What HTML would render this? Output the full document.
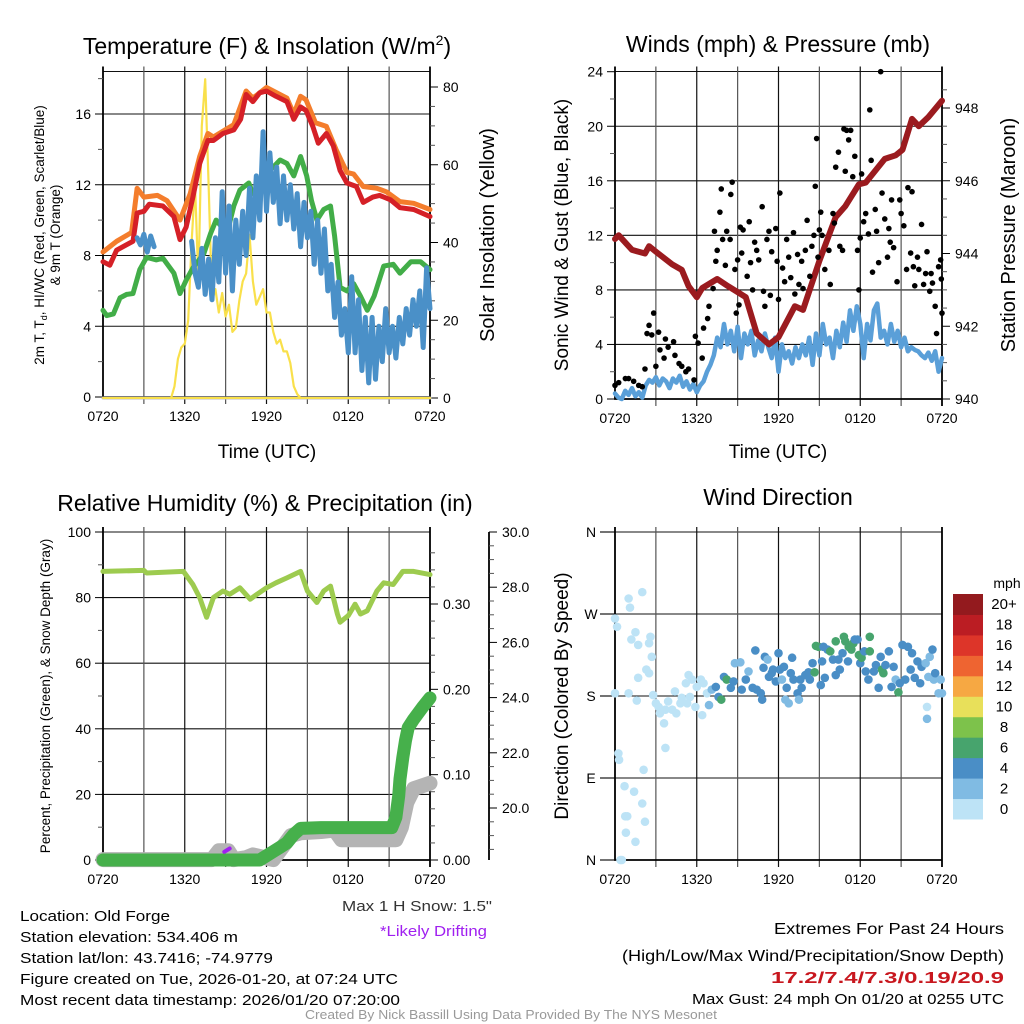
<!DOCTYPE html>
<html><head><meta charset="utf-8"><style>
body{margin:0;background:#fff}
svg{display:block;font-family:"Liberation Sans",Arial,sans-serif}
</style></head><body>
<svg id="root" width="1024" height="1024" viewBox="0 0 1024 1024">
<rect x="0" y="0" width="1024" height="1024" fill="#fff"/>
<g font-size="23" text-anchor="middle" fill="#000">
<text x="267" y="54">Temperature (F) &amp; Insolation (W/m<tspan dy="-9" font-size="14">2</tspan><tspan dy="9">)</tspan></text>
<text x="778" y="52">Winds (mph) &amp; Pressure (mb)</text>
<text x="265" y="511">Relative Humidity (%) &amp; Precipitation (in)</text>
<text x="778" y="505">Wind Direction</text>
</g>
<g font-size="19" text-anchor="middle">
<text x="267" y="458">Time (UTC)</text>
<text x="778" y="458">Time (UTC)</text>
<text transform="translate(494,235) rotate(-90)" font-size="20">Solar Insolation (Yellow)</text>
<text transform="translate(568,235) rotate(-90)">Sonic Wind &amp; Gust (Blue, Black)</text>
<text transform="translate(1015,235) rotate(-90)" font-size="20">Station Pressure (Maroon)</text>
<text transform="translate(568,696) rotate(-90)">Direction (Colored By Speed)</text>
</g>
<g font-size="13.5" text-anchor="middle">
<text transform="translate(44,235) rotate(-90)">2m T, T<tspan font-size="9" dy="3">d</tspan><tspan dy="-3">, HI/WC (Red, Green, Scarlet/Blue)</tspan></text>
<text transform="translate(60,235) rotate(-90)">&amp; 9m T (Orange)</text>
<text transform="translate(50,696) rotate(-90)">Percent, Precipitation (Green), &amp; Snow Depth (Gray)</text>
</g>
<g id="layer"></g>
<g font-size="15" fill="#000">
<text x="20" y="921" textLength="150" lengthAdjust="spacingAndGlyphs">Location: Old Forge</text>
<text x="20" y="942" textLength="218" lengthAdjust="spacingAndGlyphs">Station elevation: 534.406 m</text>
<text x="20" y="963" textLength="253" lengthAdjust="spacingAndGlyphs">Station lat/lon: 43.7416; -74.9779</text>
<text x="20" y="984" textLength="378" lengthAdjust="spacingAndGlyphs">Figure created on Tue, 2026-01-20, at 07:24 UTC</text>
<text x="20" y="1005" textLength="380" lengthAdjust="spacingAndGlyphs">Most recent data timestamp: 2026/01/20 07:20:00</text>
<text x="342" y="911" textLength="150" lengthAdjust="spacingAndGlyphs" fill="#333">Max 1 H Snow: 1.5"</text>
<text x="380" y="936" textLength="107" lengthAdjust="spacingAndGlyphs" fill="#a020f0">*Likely Drifting</text>
<text x="774" y="934" font-size="16" textLength="230" lengthAdjust="spacingAndGlyphs">Extremes For Past 24 Hours</text>
<text x="622" y="961" font-size="16" textLength="382" lengthAdjust="spacingAndGlyphs">(High/Low/Max Wind/Precipitation/Snow Depth)</text>
<text x="771" y="983" font-size="16" font-weight="bold" fill="#c8171e" textLength="233" lengthAdjust="spacingAndGlyphs">17.2/7.4/7.3/0.19/20.9</text>
<text x="692" y="1004" textLength="312" lengthAdjust="spacingAndGlyphs">Max Gust: 24 mph On 01/20 at 0255 UTC</text>
<text x="305" y="1019" font-size="12.5" fill="#999" textLength="412" lengthAdjust="spacingAndGlyphs">Created By Nick Bassill Using Data Provided By The NYS Mesonet</text>
</g>
</svg>
<script>
// ---------- DATA ----------
const xTickLabels = ["0720","1320","1920","0120","0720"];
// Panel 1 (temperatures, hours since 0720, values F)
const redT = [0,0.5,1.0,1.7,2.2,2.5,3.0,3.4,4.4,5.2,5.65,6.1,6.6,7.1,7.7,8.1,8.8,9.6,10.1,10.5,11.0,11.5,12.0,12.7,13.5,14.0,14.5,14.9,15.4,15.8,16.4,16.9,17.4,17.9,18.6,19.1,19.8,20.3,21.1,21.8,22.8,24];
const redV = [7.65,7.45,8.3,8.6,8.8,10.4,10.5,10.9,10.8,10.2,8.9,9.6,11.3,13.2,14.5,14.5,14.9,15.1,15.7,17.1,16.7,17.2,17.3,17.0,16.7,15.7,16.4,16.2,15.3,14.35,14.9,14.2,12.8,12.1,11.9,11.0,11.3,11.4,11.15,10.7,10.6,10.2];
const orangeT = [0,1.0,2.1,2.5,3.0,4.0,4.7,5.65,6.4,7.1,7.7,8.1,9.6,10.5,11.0,12.0,13.5,14.0,14.5,14.9,15.6,16.4,17.1,17.9,18.4,19.1,20.1,20.8,21.8,22.8,24];
const orangeV = [8.2,8.8,9.3,11.8,11.3,11.4,11.1,10.0,11.5,13.6,14.9,14.7,15.4,17.3,16.9,17.5,16.9,16.0,17.0,16.8,15.5,15.3,14.0,12.7,12.6,11.9,11.8,11.6,11.05,10.95,10.6];
const greenT = [0,0.27,0.76,1.25,1.74,2.2,2.7,3.2,3.9,4.4,5.2,5.65,6.1,6.6,7.4,7.9,8.3,9.1,9.6,10.05,10.7,11.0,11.8,12.5,13.0,13.5,14.0,14.5,14.95,15.3,15.7,16.2,16.7,17.0,17.4,17.9,18.4,18.9,19.4,19.9,20.6,21.3,21.8,22.6,23.3,24];
const greenV = [4.9,4.6,4.7,5.6,5.8,5.85,7.2,7.9,7.75,7.85,7.0,5.85,6.6,7.3,8.1,9.25,10.0,9.25,10.8,11.7,12.1,11.5,12.5,13.0,13.4,13.2,12.5,13.6,12.5,11.1,10.0,10.6,10.8,9.1,6.2,6.0,6.4,5.7,4.9,5.7,7.4,7.5,7.0,7.65,7.65,7.2];
const blueStart = 2.5;
const blueV = [9.0,8.6,9.2,8.2,9.1,8.5,null,null,null,null,null,null,null,null,null,null,
 8.8,7.0,6.2,8.4,5.8,7.8,5.5,9.0,6.5,11.6,7.0,10.8,6.0,10.0,7.5,10.5,8.0,11.8,9.0,12.5,10.0,15.0,10.5,13.8,11.0,13.0,9.8,12.5,10.0,12.0,9.5,11.5,8.5,11.0,9.0,10.5,7.5,10.0,7.0,9.5,6.0,7.5,4.5,6.5,3.5,5.0,2.5,6.8,2.5,5.5,1.5,4.5,0.8,4.5,1.0,4.0,2.0,5.0,2.5,4.0,2.2,4.5,3.0,5.0,3.5,5.5,4.0,6.0,2.8,7.3,5.0];
const solarStart = 5.0;
const solarV = [0,3,10,13,14,20,40,55,30,70,82,55,25,28,22,27,21,24,17,18,25,30,32,42,30,24,26,28,22,22,17,14,15,12,12,9,3,1,0];
// Panel 2
const windV = [0.4,0.1,0.0,0.6,0.3,0.8,0.2,0.5,0.1,
 1.0,1.4,1.2,1.6,1.0,1.5,1.3,0.8,
 1.5,1.2,1.7,0.9,1.3,0.7,1.1,0.5,
 1.0,1.3,2.0,2.5,3.2,4.5,3.8,5.5,
 4.0,5.0,3.5,5.3,3.0,4.8,4.0,5.0,
 3.2,4.3,3.5,4.8,3.8,3.0,4.5,2.0,
 4.0,3.0,3.5,2.6,3.8,3.0,4.0,3.2,
 4.5,2.5,4.8,3.2,5.5,4.0,4.5,3.0,
 5.0,3.8,5.6,4.2,6.5,5.0,6.8,5.5,
 3.0,5.5,4.3,6.5,7.0,4.5,5.0,4.0,
 5.5,4.2,5.0,3.8,4.5,3.5,3.8,3.6,
 3.5,3.2,3.0,3.4,2.8,3.5,2.0,3.0];
const pressT = [0,0.27,1.25,2.2,2.5,3.0,4.2,4.9,5.4,6.0,6.4,7.5,8.3,9.6,10.4,11.3,12.0,13.2,13.8,15.0,16.2,16.9,17.9,18.4,19.8,20.6,21.1,21.8,22.3,23.0,24];
const pressV = [944.4,944.5,944.1,944.0,944.2,944.05,943.7,943.55,943.1,942.8,943.05,943.3,943.1,942.8,941.8,941.5,941.7,942.55,942.45,943.8,945.0,945.3,945.9,945.95,946.6,946.7,946.85,947.7,947.5,947.75,948.2];
const gustT = [0,0.27,0.76,1.0,1.37,1.74,2.0,2.2,2.35,2.5,2.7,2.84,3.0,3.2,3.3,3.6,3.7,3.9,4.3,4.4,4.7,4.9,5.2,5.4,5.8,5.9,6.1,6.4,6.5,6.8,6.9,7.2,7.3,7.4,7.5,7.7,7.8,7.9,8.1,8.2,8.45,8.5,8.6,8.8,8.9,9.0,9.1,9.2,9.3,9.4,9.7,9.85,9.95,10.1,10.25,10.4,10.55,10.8,10.9,11.0,11.15,11.3,11.4,11.5,11.8,11.9,12.0,12.1,12.3,12.45,12.6,12.75,12.9,13.1,13.2,13.4,13.5,13.7,13.8,13.97,14.1,14.3,14.45,14.6,14.7,14.8,14.9,15.0,15.1,15.2,15.4,15.7,15.8,16.0,16.1,16.2,16.4,16.5,16.7,16.8,16.9,17.0,17.15,17.3,17.45,17.6,17.8,17.9,18.0,18.1,18.25,18.4,18.6,18.7,18.8,18.9,19.1,19.2,19.35,19.5,19.6,19.8,20.0,20.1,20.2,20.3,20.45,20.7,20.9,21.0,21.2,21.4,21.5,21.7,21.8,21.9,22.0,22.2,22.3,22.5,22.65,22.8,22.9,23.1,23.2,23.3,23.5,23.6,23.75,23.9,23.95,24.0];
const gustV = [1.0,1.2,1.5,1.5,1.3,1.0,0.9,2.2,4.8,5.4,4.7,6.3,2.4,4.9,3.6,3.0,4.4,3.8,4.2,3.2,2.6,2.4,2.0,2.2,1.4,4.6,4.1,3.0,5.2,5.9,6.8,8.1,12.3,10.1,10.9,13.7,15.4,11.7,9.8,12.3,11.7,15.0,15.9,9.5,6.3,10.2,6.9,12.6,10.7,12.4,9.0,13.0,10.0,8.0,11.5,10.9,10.2,14.1,7.9,6.8,11.7,12.3,7.6,10.8,12.5,10.1,7.3,15.1,9.6,8.6,11.7,10.4,8.9,12.2,7.7,10.6,8.4,10.1,8.1,10.9,13.1,9.0,11.2,12.0,15.6,19.1,10.4,12.4,13.7,12.0,9.5,10.9,8.4,13.6,12.9,17.0,18.1,11.2,10.9,19.8,16.7,19.7,19.0,19.7,16.3,17.8,10.9,8.0,11.8,16.5,13.0,13.6,12.1,21.2,17.5,9.3,13.9,12.3,10.0,24.0,15.1,13.2,10.4,12.5,11.5,14.6,11.1,8.6,14.6,13.6,12.7,9.5,15.5,10.7,15.2,9.7,8.3,10.4,9.5,12.8,8.4,9.2,10.8,7.9,9.2,8.5,6.8,4.8,9.7,10.2,8.8,6.3];
// Panel 3
const rhT = [0,3.0,3.2,5.9,6.6,7.1,7.6,8.1,8.8,9.3,10.05,10.8,11.3,12.0,12.7,13.5,14.5,15.0,15.7,16.2,16.7,17.2,17.4,18.0,18.5,18.9,19.4,20.1,20.6,21.3,22.0,22.8,24];
const rhV = [88,88.3,87.5,88,84,80,74,80,82,81,83,79.5,81,83,84.5,86,88,82,78.5,82,83.5,75,72.5,74.5,78,75,76,82,84.5,84,88,88,87];
const precipT = [0,11.5,12,12.5,13,13.5,14,14.5,16,18,21.2,21.5,21.7,21.8,22.0,22.2,22.4,22.8,23.5,24];
const precipV = [0,0,0.005,0.01,0.015,0.02,0.03,0.037,0.038,0.038,0.038,0.05,0.075,0.095,0.12,0.14,0.155,0.165,0.18,0.19];
const snowT = [0,8,8.5,9.2,9.6,10.5,11,12.5,13.2,13.8,14.5,16,17,17.5,18.5,21.5,21.9,22.3,22.8,24];
const snowV = [18.13,18.13,18.45,18.45,18.13,18.2,18.3,18.13,18.6,19.0,19.1,19.15,19.2,18.85,18.85,18.85,19.3,20.2,20.7,20.9];
const driftT = [8.9,9.3];
const driftV = [2.5,3.5];
const precipTicks = [0,0.1,0.2,0.3];
const snowTicks = [20,22,24,26,28,30];
// Panel 4
const dirT = [0,0.15,0,0.25,0.3,0.4,0.5,0.7,0.75,0.9,0.8,1.0,1.0,1.1,1.2,1.4,1.5,1.5,1.6,1.7,1.7,2.0,2.0,2.1,2.2,2.5,2.6,2.3,2.5,2.7,2.8,3.0,3.2,3.3,3.6,3.7,3.7,3.9,4.2,4.4,4.5,4.8,4.9,5.2,5.3,5.4,5.5,5.65,5.9,6.0,6.3,6.4,6.5,6.75,
 6.9,7.1,7.4,7.6,7.8,8.0,8.2,8.5,8.7,8.8,9.2,9.3,9.6,9.8,10.1,10.3,10.4,10.7,10.8,10.9,11.0,11.2,11.3,11.5,11.6,11.8,12.0,12.1,12.25,12.4,12.5,12.6,12.75,12.9,13.0,13.1,13.4,13.5,13.6,13.7,13.97,14.2,14.3,14.5,14.65,14.75,14.95,15.1,15.2,15.3,15.4,15.6,15.8,16.0,16.2,16.2,16.4,16.5,16.7,16.8,16.9,17.1,17.15,17.35,17.5,17.6,17.8,17.9,18.0,18.1,18.3,18.4,18.6,18.7,18.7,19.0,19.15,19.35,19.5,19.6,19.7,19.85,20.1,20.3,20.45,20.6,20.8,20.9,21.1,21.3,21.5,21.7,21.8,22.0,22.2,22.4,22.5,22.8,22.9,22.9,23.0,23.1,23.3,23.4,23.5,23.75,23.9,24];
const dirDeg = [265,256,183,117,110,0,0,81,48,48,30,183,287,277,242,75,250,20,175,236,200,294,62,99,42,238,245,209,205,223,181,172,168,161,150,123,165,174,165,185,161,172,178,194,172,203,179,198,168,190,198,159,194,183,
 170,187,190,179,176,201,198,189,196,216,217,187,198,207,189,230,187,183,176,211,223,220,201,205,209,196,227,209,198,212,176,189,172,205,222,198,183,176,198,189,203,206,198,216,206,235,234,192,218,234,200,231,229,220,203,240,220,209,227,245,240,218,234,231,238,242,242,225,216,222,229,207,198,245,229,207,214,189,223,209,205,214,229,190,212,198,184,194,236,198,234,209,227,200,218,194,212,216,155,168,201,223,231,198,205,183,198,183];
const dirSpd = [1,1,1,1,1,1,1,1,1,1,1,1,1,1,1,1,1,1,1,1,1,1,1,1,1,1,1,1,1,1,1,1,1,1,1,1,1,1,1,1,1,1,1,1,1,1,1,1,1,1,1,1,1,1,
 3,3,4,4,7,4,7,4,4,3,3,4,4,3,4,4,4,4,4,4,4,3,4,4,4,4,4,4,3,4,3,4,3,4,4,4,4,3,4,4,4,4,4,4,7,7,7,4,4,4,4,4,7,4,4,7,4,4,4,7,7,4,7,7,7,4,4,7,4,7,4,4,4,7,7,4,4,4,4,7,7,4,4,4,4,3,7,4,4,4,4,4,4,4,4,4,4,3,3,1,3,3,4,3,4,3,3,3];
const dirLabels = ["N","E","S","W","N"];
const speedBins = ["0","2","4","6","8","10","12","14","16","18","20+"];
const speedColors = ["#bde3f6","#80bbe3","#4a8ec6","#47a46d","#7dc24b","#e8e05a","#f6a843","#ee6431","#dd3529","#bb1d23","#931a1e"];

// ---------- HELPERS ----------
const NS = "http://www.w3.org/2000/svg";
const layer = document.getElementById("layer");
function mk(tag, attrs){ const e=document.createElementNS(NS,tag); for(const k in attrs) e.setAttribute(k,attrs[k]); layer.appendChild(e); return e; }
const HPX = 327/24;
const xL = t => 103 + t*HPX;
const xR = t => 615 + t*HPX;
const yT = v => 397 - v*(283/16);
const yI = v => 398 - v*(311/80);
const yW = v => 399 - v*(327.3/24);
const yP = p => 399 - (p-940)*(291/8);
const yH = v => 860 - v*3.28;
const yPr = p => 860 - p*(256/0.3);
const ySn = s => 532 + (30-s)*27.6;
const yD = d => 860 - d*(328/360);

function pathFrom(ts, vs, xf, yf){
  let d="", pen=false;
  for(let i=0;i<vs.length;i++){
    if(vs[i]===null){pen=false;continue;}
    d += (pen?"L":"M") + xf(ts[i]).toFixed(1) + "," + yf(vs[i]).toFixed(1);
    pen=true;
  }
  return d;
}
function seriesLine(ts, vs, xf, yf, color, w, name){
  const p = mk("path",{d:pathFrom(ts,vs,xf,yf),fill:"none",stroke:color,"stroke-width":w,"stroke-linejoin":"round","stroke-linecap":"round"});
  
  
  return p;
}
function stepTimes(start, step, n){ const a=[]; for(let i=0;i<n;i++) a.push(start+i*step); return a; }

function frame(x0, yTop, yBot, hYs, prefix, xf){
  const x1 = x0 + 327;
  hYs.forEach(y=>{
    const l = mk("line",{x1:x0,x2:x1,y1:y,y2:y,stroke:"#111","stroke-width":1.1});
    
    
  });
  for(let t=3;t<24;t+=3){
    const l = mk("line",{x1:xf(t),x2:xf(t),y1:yTop-5,y2:yBot+7,stroke:(t%6===0?"#111":"#555"),"stroke-width":1.2});
    
    
  }
  const ax = mk("path",{d:`M${x0},${yTop-5}L${x0},${yBot}L${x1},${yBot}M${x1},${yTop-5}L${x1},${yBot+7}`,fill:"none",stroke:"#000","stroke-width":1.8});
  
  
  xTickLabels.forEach((lab,i)=>{
    const tx = mk("text",{x:xf(i*6),y:yBot+24,"font-size":14,"text-anchor":"middle"});
    tx.textContent = lab;
    
    
  });
}
function leftTicks(x, vals, yf, fmt, prefix, minors){
  vals.forEach(v=>{
    const tk = mk("line",{x1:x-8,x2:x,y1:yf(v),y2:yf(v),stroke:"#000","stroke-width":1});
    
    
    const tx = mk("text",{x:x-12,y:yf(v)+5,"font-size":14,"text-anchor":"end"});
    tx.textContent = fmt(v);
    
    
  });
  (minors||[]).forEach(v=>{
    const tk = mk("line",{x1:x-5,x2:x,y1:yf(v),y2:yf(v),stroke:"#555","stroke-width":1});
    
    
  });
}
function rightTicks(x, vals, yf, fmt, prefix, minors){
  vals.forEach(v=>{
    const tk = mk("line",{x1:x,x2:x+8,y1:yf(v),y2:yf(v),stroke:"#000","stroke-width":1});
    
    
    const tx = mk("text",{x:x+13,y:yf(v)+5,"font-size":14});
    tx.textContent = fmt(v);
    
    
  });
  (minors||[]).forEach(v=>{
    const tk = mk("line",{x1:x,x2:x+5,y1:yf(v),y2:yf(v),stroke:"#555","stroke-width":1});
    
    
  });
}
function range(a,b,s){ const r=[]; for(let v=a; v<=b+1e-9; v+=s) r.push(+v.toFixed(4)); return r; }

// ---------- PANEL 1 ----------
frame(103, 71.5, 397, [71.5,yT(4),yT(8),yT(12),yT(16)], "temp", xL);
leftTicks(103,[0,4,8,12,16],yT,v=>String(v),"temp-y",[2,6,10,14,18]);
rightTicks(430,[0,20,40,60,80],yI,v=>String(v),"insolation-y",range(5,75,5).filter(v=>v%20));
const zeroT=[0,24], zeroV=[0,0];
seriesLine(zeroT, zeroV, xL, yI, "#bbb", 3, "insolation-baseline");
seriesLine(zeroT, zeroV, xL, yI, "#f9e04b", 2, "insolation-zero-line");
seriesLine(stepTimes(solarStart,0.25,solarV.length), solarV, xL, yI, "#f9e04b", 2.2, "insolation-line");
seriesLine(greenT, greenV, xL, yT, "#42ad48", 5, "dewpoint-line");
seriesLine(orangeT, orangeV, xL, yT, "#f47d2c", 5, "temp-9m-line");
seriesLine(redT, redV, xL, yT, "#d52027", 5, "temp-2m-line");
seriesLine(stepTimes(blueStart,0.25,blueV.length), blueV, xL, yT, "#4a90c8", 5, "windchill-line");

// ---------- PANEL 2 ----------
frame(615, 71.5, 399, [71.5,yW(4),yW(8),yW(12),yW(16),yW(20)], "wind", xR);
leftTicks(615,[0,4,8,12,16,20,24],yW,v=>String(v),"wind-y",[2,6,10,14,18,22]);
rightTicks(942,[940,942,944,946,948],yP,v=>String(v),"pressure-y",range(940.5,948.5,0.5).filter(v=>v%2));
seriesLine(stepTimes(0,24/(windV.length-1),windV.length), windV, xR, yW, "#5a9fd8", 4.5, "sustained-wind-line");
seriesLine(pressT, pressV, xR, yP, "#9b1b1f", 6, "pressure-line");
gustT.forEach((t,i)=>{
  const c = mk("circle",{cx:xR(t),cy:yW(gustV[i]),r:2.8,fill:"#000"});
  
  
});

// ---------- PANEL 3 ----------
frame(103, 532, 860, [532,yH(20),yH(40),yH(60),yH(80)], "rh", xL);
leftTicks(103,[0,20,40,60,80,100],yH,v=>String(v),"rh-y",[10,30,50,70,90]);
rightTicks(430,precipTicks,yPr,v=>v.toFixed(2),"precip-y",range(0.02,0.36,0.02).filter(v=>Math.abs(v*10-Math.round(v*10))>1e-6 && yPr(v)>532));
const snowAx = mk("line",{x1:489,x2:489,y1:532,y2:860,stroke:"#000","stroke-width":1.8});


rightTicks(489,snowTicks,ySn,v=>v.toFixed(1),"snow-y",range(18.5,29.5,0.5).filter(v=>v%2 && ySn(v)<=860));
seriesLine(snowT, snowV, xL, ySn, "#b4b4b4", 15, "snow-depth-line");
seriesLine(precipT, precipV, xL, yPr, "#46b04b", 13, "precip-line");
seriesLine(driftT, driftV, xL, yH, "#a020f0", 4, "drifting-marker");
seriesLine(rhT, rhV, xL, yH, "#9dcb4f", 5, "rh-line");

// ---------- PANEL 4 ----------
frame(615, 532, 860, [532,yD(90),yD(180),yD(270)], "dir", xR);
dirLabels.forEach((lab,i)=>{
  const v=i*90;
  const tk = mk("line",{x1:600,x2:615,y1:yD(v),y2:yD(v),stroke:"#000","stroke-width":1.1});
  
  
  const tx = mk("text",{x:591,y:yD(v)+5,"font-size":14,"text-anchor":"middle"});
  tx.textContent = lab;
  
  
});
dirT.forEach((t,i)=>{
  const sp = (dirSpd[i]===undefined) ? 3 : dirSpd[i];
  const b = Math.min(10, Math.floor(sp/2));
  const c = mk("circle",{cx:xR(t),cy:yD(dirDeg[i]),r:4.3,fill:speedColors[b]});
  
  
});
// colorbar
const cbTop=594, cbH=225/11;
speedColors.forEach((col,i)=>{
  const y = cbTop + (10-i)*cbH;
  const r = mk("rect",{x:953,y:y,width:30,height:cbH+0.5,fill:col});
  
  
  const tx = mk("text",{x:1004,y:y+cbH/2+5,"font-size":15,"text-anchor":"middle"});
  tx.textContent = speedBins[i];
  
  
});
const cbt = mk("text",{x:1007,y:588,"font-size":14,"text-anchor":"middle"});
cbt.textContent = "mph";


</script>
</body></html>
